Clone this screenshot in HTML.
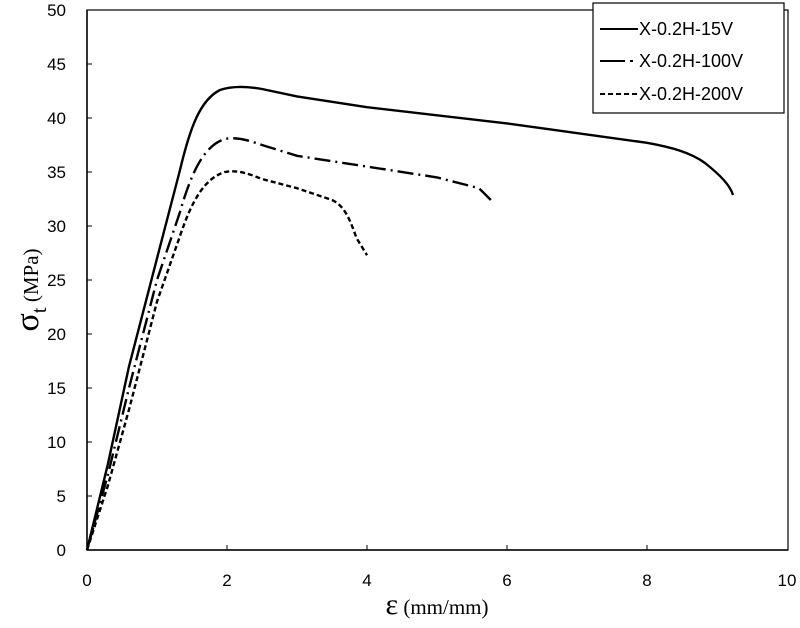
<!DOCTYPE html>
<html><head><style>body{margin:0;background:#fff}svg{display:block}</style></head><body>
<svg width="800" height="628" xmlns="http://www.w3.org/2000/svg" font-family="Liberation Sans, sans-serif">
<rect x="0" y="0" width="800" height="628" fill="#fff"/>
<rect x="87" y="10" width="701" height="540" fill="none" stroke="#000" stroke-width="1.2"/>
<g stroke="#000" stroke-width="1.5" fill="none">
<line x1="87" y1="550" x2="788" y2="550"/>
<line x1="87" y1="10" x2="87" y2="550"/>
</g>
<g stroke="#000" stroke-width="1">
<line x1="227" y1="545" x2="227" y2="550"/><line x1="367" y1="545" x2="367" y2="550"/><line x1="507" y1="545" x2="507" y2="550"/><line x1="647" y1="545" x2="647" y2="550"/>
<line x1="87" y1="496" x2="92" y2="496"/><line x1="87" y1="442" x2="92" y2="442"/><line x1="87" y1="388" x2="92" y2="388"/><line x1="87" y1="334" x2="92" y2="334"/><line x1="87" y1="280" x2="92" y2="280"/><line x1="87" y1="226" x2="92" y2="226"/><line x1="87" y1="172" x2="92" y2="172"/><line x1="87" y1="118" x2="92" y2="118"/><line x1="87" y1="64" x2="92" y2="64"/>
</g>
<g font-size="17" fill="#000" text-anchor="end">
<text x="66" y="556">0</text><text x="66" y="502">5</text><text x="66" y="448">10</text><text x="66" y="394">15</text><text x="66" y="340">20</text><text x="66" y="286">25</text><text x="66" y="232">30</text><text x="66" y="178">35</text><text x="66" y="124">40</text><text x="66" y="70">45</text><text x="66" y="16">50</text>
</g>
<g font-size="17" fill="#000" text-anchor="middle">
<text x="87" y="586">0</text><text x="227" y="586">2</text><text x="367" y="586">4</text><text x="507" y="586">6</text><text x="647" y="586">8</text><text x="787" y="586">10</text>
</g>
<text x="437" y="614" font-family="Liberation Serif, serif" font-size="21" text-anchor="middle"><tspan font-size="30">ε</tspan> (mm/mm)</text>
<text transform="translate(38,290) rotate(-90)" font-family="Liberation Serif, serif" font-size="21" text-anchor="middle"><tspan font-size="34">σ</tspan><tspan font-size="21" dy="8">t</tspan><tspan dy="-8"> (MPa)</tspan></text>
<g fill="none" stroke="#000" stroke-width="2.4" stroke-linejoin="round">
<path d="M87,550 L108,463.6 L129,366.4 L157,258.4 L180,170 C190,128 200,100 220,90 C232,86 245,86 262,89 L297,96.4 L367,107.2 L507,123.4 L647,142.8 C670,147 690,152 705,163 C720,175 730,185 733,195"/>
<path stroke-dasharray="16,5,2,5" d="M87,550 L108,474.4 L129,388 L157,280 L180,212 C192,170 205,145 225,139 C235,137 245,139 262,145 L297,155.8 L367,166.6 L437,177.4 L479,188.2 L493,202.2"/>
<path stroke-dasharray="5,3" d="M87,550 L108,485.2 L129,409.6 L157,301.6 L180,236 C192,200 205,178 225,172 C235,170 245,172 262,179 L297,188.2 L332,200 C345,206 350,220 356.5,238 L367,255.2"/>
</g>
<rect x="593" y="3" width="191" height="110" fill="#fff" stroke="#000" stroke-width="1.2"/>
<g stroke="#000" stroke-width="2">
<line x1="600" y1="29" x2="638" y2="29"/>
<line x1="600" y1="61" x2="625" y2="61" /><line x1="630" y1="61" x2="633" y2="61"/>
<line x1="600" y1="94" x2="638" y2="94" stroke-dasharray="5,3"/>
</g>
<g font-size="18" fill="#000">
<text x="639" y="35">X-0.2H-15V</text><text x="639" y="67">X-0.2H-100V</text><text x="639" y="100">X-0.2H-200V</text>
</g>
</svg>
</body></html>
